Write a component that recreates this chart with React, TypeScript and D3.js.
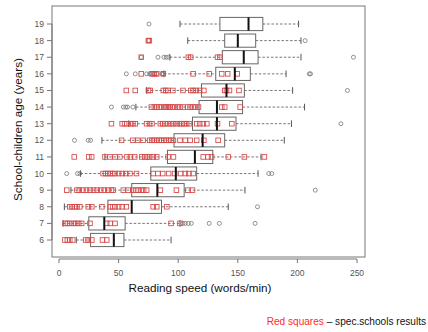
import React from "react";
import * as d3 from "d3";

const ages = [6, 7, 8, 9, 10, 11, 12, 13, 14, 15, 16, 17, 18, 19];
// [whiskerLow, q1, median, q3, whiskerHigh]
const stats: number[][] = [
  [14.5, 26.5, 46, 54.5, 94],
  [3.5, 25, 38, 55.5, 101.5],
  [4.5, 41, 61, 86, 142],
  [10, 61, 82.5, 105, 156],
  [18, 77, 98, 115.5, 167],
  [38.5, 91, 114, 129, 169.5],
  [36, 96.5, 120.5, 139, 189],
  [58.5, 112, 132.5, 148.5, 195],
  [64.5, 117.5, 132.5, 154, 206],
  [73.5, 119.5, 140.5, 155.5, 196],
  [88, 131.5, 147.5, 160.5, 190.5],
  [93, 137, 155, 167, 203],
  [108, 139, 150, 165, 203],
  [101.5, 135, 159, 171, 201],
];
const outliers: number[][] = [
  [],
  [104, 106, 108.5, 111, 126, 134.5, 164.5],
  [166.5],
  [215],
  [6.5, 15.5, 17.5, 176, 178.5],
  [],
  [13, 24.5, 26.5],
  [236.5],
  [44, 54, 56, 57.5, 62],
  [242],
  [56.5, 64, 73.5, 76, 78, 80, 82, 86.5, 87.5, 210, 211],
  [69, 83, 88, 90, 92, 247],
  [75, 206.5],
  [75.5],
];
const redSquares: number[][] = [
  [5, 7, 9, 11.5, 22.5, 24.5, 27.5, 36.5, 40],
  [5, 7, 9, 12, 14, 16.5, 19, 26, 40, 43, 47, 94, 101.5],
  [9, 11, 13, 15, 17.5, 24.5, 27.5, 36, 43, 45, 47, 50, 53, 56.5, 79, 82, 90.5],
  [6.5, 15, 17, 20, 23, 26, 29, 32, 35, 38, 41, 44, 45.5, 54, 58, 62, 64.5, 66.5, 69, 71, 73.5, 85, 98.5, 108, 112],
  [37, 39, 41, 43, 45, 47, 50, 53, 56, 59.5, 65, 79, 83, 87, 92, 97, 102, 106, 109, 112.5],
  [12.8, 25, 27.4, 38.6, 42.8, 47, 51, 57, 60, 63.5, 69.5, 72, 74, 76, 79, 82, 91.5, 96, 121, 125, 128, 142, 155.5, 172.3],
  [52.5, 62, 66, 70.5, 76, 78, 80, 82, 84, 86, 88, 90, 92, 94, 96, 101.5, 106, 110, 115.5, 121.5, 133.5],
  [44, 53, 55, 57, 60, 62, 64, 73.5, 76, 78, 85, 87, 89, 91.5, 94, 96, 98.5, 101, 103, 105, 107, 109.5, 115.5, 118, 121, 124, 133, 145],
  [77.5, 80, 82, 84, 86, 88.5, 90, 91.5, 93, 95, 97, 99.5, 101.5, 104, 108, 110, 112.5, 114.5, 117, 136.5, 139, 152],
  [56.5, 64, 75, 76.5, 87.5, 89.5, 91.5, 95.5, 104, 110.5, 112.5, 115, 118, 121.5, 139, 140.5, 143, 151],
  [69, 78, 80, 82, 87.5, 112.5, 126, 136.5, 141.5, 149.5],
  [69, 108.5, 110.5, 133, 135],
  [75, 75.8],
  [],
];
const xTicks = [0, 50, 100, 150, 200, 250];
const xTitle = "Reading speed (words/min)";
const yTitle = "School-children age (years)";
const footRed = "Red squares";
const footRest = " \u2013 spec.schools results";

export default function App() {
  const W = 428, H = 332;
  const x = d3.scaleLinear().domain([0, 250]).range([59, 357]);
  const y = d3.scaleLinear().domain([6, 19]).range([240, 24]);
  const fx0 = 52, fx1 = 365, fy0 = 6, fy1 = 257;
  const half = 6.6;
  const staple = 3.3;
  const font = "Liberation Sans, Arial, sans-serif";
  const tickColor = "#555";
  return (
    <svg width={W} height={H} style={{ position: "absolute", left: 0, top: 0, background: "#fff" }} fontFamily={font}>
      <rect x={fx0} y={fy0} width={fx1 - fx0} height={fy1 - fy0} fill="none" stroke="#777" strokeWidth={1} />
      {ages.map((a, i) => {
        const [lo, q1, md, q3, hi] = stats[i];
        const cy = y(a);
        return (
          <g key={a}>
            <line x1={x(lo)} x2={x(q1)} y1={cy} y2={cy} stroke="#666" strokeWidth={0.9} strokeDasharray="2.5,1.8" />
            <line x1={x(q3)} x2={x(hi)} y1={cy} y2={cy} stroke="#666" strokeWidth={0.9} strokeDasharray="2.5,1.8" />
            <line x1={x(lo)} x2={x(lo)} y1={cy - staple} y2={cy + staple} stroke="#555" strokeWidth={1} />
            <line x1={x(hi)} x2={x(hi)} y1={cy - staple} y2={cy + staple} stroke="#555" strokeWidth={1} />
            <rect x={x(q1)} y={cy - half} width={x(q3) - x(q1)} height={2 * half} fill="#fff" stroke="#666" strokeWidth={1} />
            {outliers[i].map((v, j) => (
              <circle key={"o" + j} cx={x(v)} cy={cy} r={2} fill="none" stroke="#777" strokeWidth={0.8} />
            ))}
            {redSquares[i].map((v, j) => (
              <rect key={"r" + j} x={x(v) - 2.3} y={cy - 2.3} width={4.6} height={4.6} fill="none" stroke="#d64545" strokeWidth={0.85} />
            ))}
            <line x1={x(md)} x2={x(md)} y1={cy - half} y2={cy + half} stroke="#111" strokeWidth={2} />
          </g>
        );
      })}
      {/* x axis */}
      <line x1={x(0)} x2={x(250)} y1={259} y2={259} stroke="#777" />
      {xTicks.map((t) => (
        <g key={t}>
          <line x1={x(t)} x2={x(t)} y1={259} y2={263} stroke="#777" />
          <text x={x(t)} y={276} textAnchor="middle" fontSize={8.5} fill={tickColor}>{t}</text>
        </g>
      ))}
      {/* y axis */}
      <line x1={fx0} x2={fx0} y1={y(6)} y2={y(19)} stroke="#777" />
      {ages.map((a) => (
        <g key={a}>
          <line x1={47} x2={fx0} y1={y(a)} y2={y(a)} stroke="#777" />
          <text x={44} y={y(a) + 3} textAnchor="end" fontSize={8.5} fill={tickColor}>{a}</text>
        </g>
      ))}
      <text x={200} y={292} textAnchor="middle" fontSize={11.7} fill="#111">{xTitle}</text>
      <text transform={`translate(21.5,129.5) rotate(-90)`} textAnchor="middle" fontSize={11.7} fill="#111">{yTitle}</text>
      <text x={426} y={325} textAnchor="end" fontSize={10.1}>
        <tspan fill="#ff2a2a">{footRed}</tspan>
        <tspan fill="#111">{footRest}</tspan>
      </text>
    </svg>
  );
}
